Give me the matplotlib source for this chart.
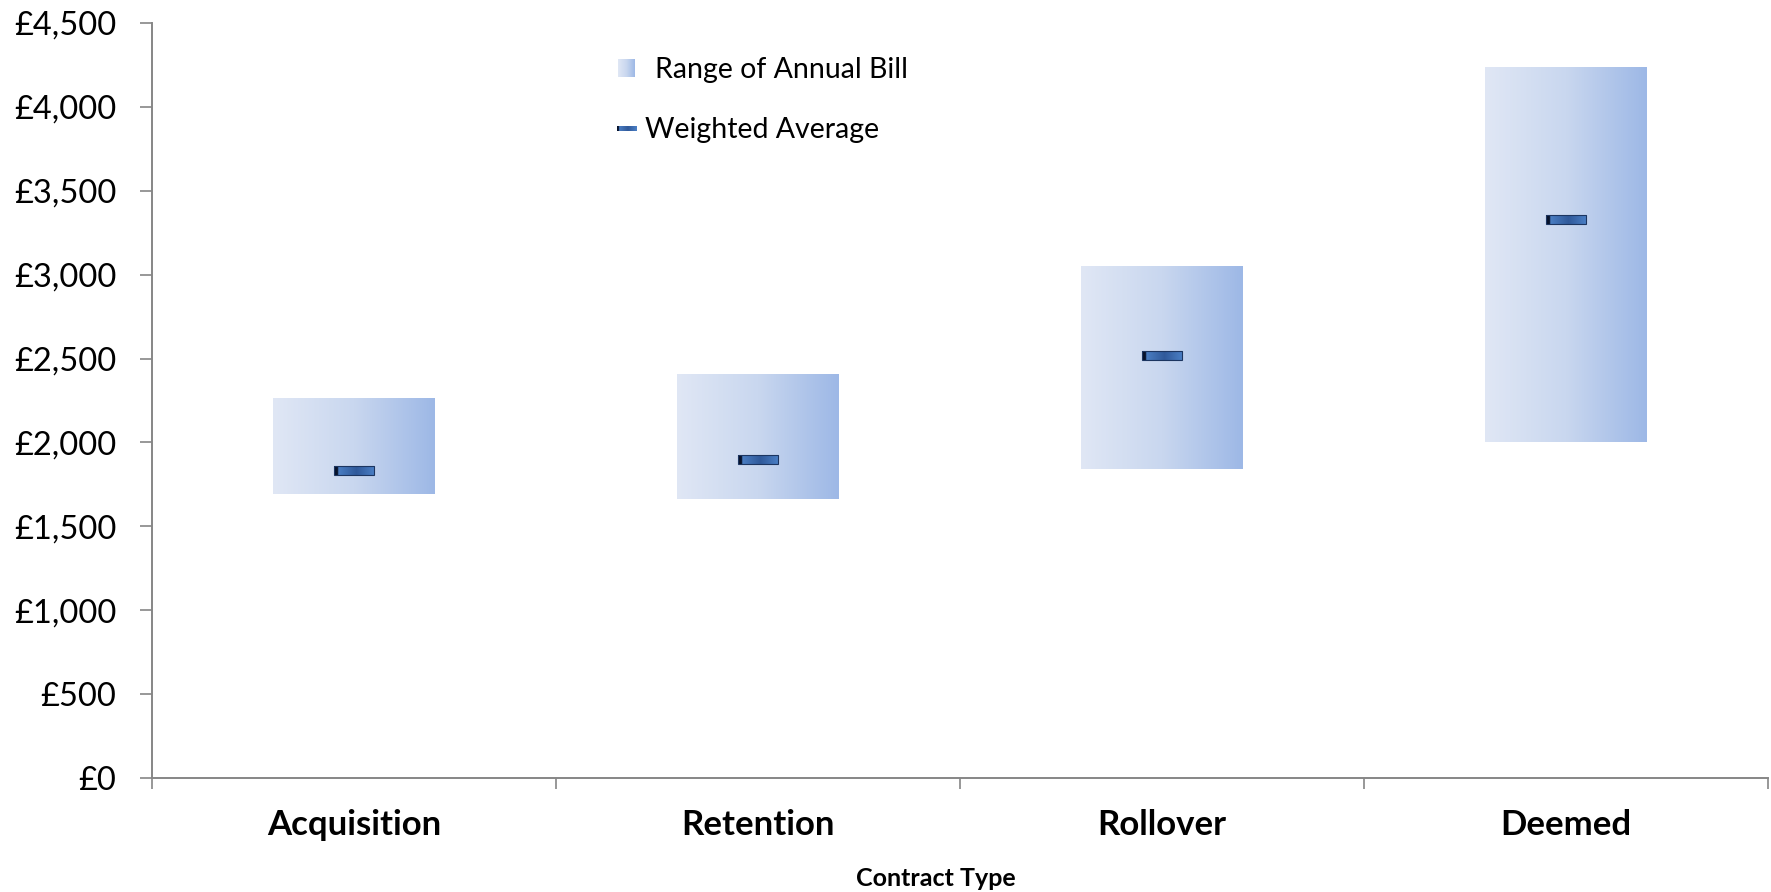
import numpy as np
import matplotlib.pyplot as plt
from matplotlib.colors import LinearSegmentedColormap
from matplotlib.ticker import FuncFormatter, FixedLocator

categories = ["Acquisition", "Retention", "Rollover", "Deemed"]
bill_low = [1690, 1660, 1840, 2000]
bill_high = [2265, 2410, 3050, 4240]
weighted_avg = [1830, 1900, 2520, 3330]
y_ticks = list(range(0, 4501, 500))

plt.rcParams['font.family'] = ['Lato', 'DejaVu Sans']
axis_grey = "#868686"

W, H = 1771, 892
fig = plt.figure(figsize=(W / 100, H / 100), dpi=100)
ax = fig.add_axes([152 / W, 114 / H, 1616 / W, 755 / H])

range_cmap = LinearSegmentedColormap.from_list("range", ["#e0e7f5", "#c9d7ef", "#9db8e6"])
avg_cmap = LinearSegmentedColormap.from_list(
    "avg", [(0, "#07122b"), (0.09, "#07122b"), (0.11, "#4a7dc2"),
            (0.55, "#30599a"), (1, "#4b80c6")])
grad = np.linspace(0, 1, 256).reshape(1, -1)

x = np.arange(len(categories))

# range boxes with horizontal gradient
bars = ax.bar(x, np.subtract(bill_high, bill_low), bottom=bill_low,
              width=0.4, color="none", zorder=1)
for b in bars:
    bx, by = b.get_x(), b.get_y()
    im = ax.imshow(grad, cmap=range_cmap, aspect="auto", interpolation="bilinear",
                   extent=(bx, bx + b.get_width(), by, by + b.get_height()), zorder=1)
    im.set_clip_path(b)

# weighted average markers (about 9 px tall)
mh = 9 * 4500 / 755
marks = ax.bar(x, mh, bottom=np.array(weighted_avg) - mh / 2, width=0.1,
               color="none", edgecolor="#1c3560", linewidth=0.8, zorder=3)
for b in marks:
    bx, by = b.get_x(), b.get_y()
    im = ax.imshow(grad, cmap=avg_cmap, aspect="auto", interpolation="bilinear",
                   extent=(bx, bx + b.get_width(), by, by + b.get_height()), zorder=2)
    im.set_clip_path(b)

ax.set_xlim(-0.5, len(categories) - 0.5)
ax.set_ylim(0, 4500)
ax.set_yticks(y_ticks)
ax.yaxis.set_major_formatter(FuncFormatter(lambda v, p: "£{:,.0f}".format(v)))

ax.xaxis.set_major_locator(FixedLocator(np.arange(len(categories) + 1) - 0.5))
ax.xaxis.set_major_formatter(FuncFormatter(lambda v, p: ""))
ax.set_xticks(x, minor=True)
ax.set_xticklabels(categories, minor=True, fontsize=25, fontweight="bold")
ax.tick_params(axis="x", which="minor", length=0, pad=22)
ax.tick_params(axis="x", which="major", length=8, color=axis_grey, width=1.2)
ax.tick_params(axis="y", length=8.5, color=axis_grey, width=1.2, labelsize=23.5, pad=17)

for s in ["top", "right"]:
    ax.spines[s].set_visible(False)
for s in ["left", "bottom"]:
    ax.spines[s].set_color(axis_grey)
    ax.spines[s].set_linewidth(1.4)

fig.text(936 / W, 1 - 879 / H, "Contract Type", ha="center", va="center",
         fontsize=18, fontweight="bold")

# legend
lg1 = fig.add_axes([618 / W, 1 - 77 / H, 17 / W, 18 / H])
lg1.imshow(grad, cmap=range_cmap, aspect="auto")
lg1.axis("off")
fig.text(655 / W, 1 - 70 / H, "Range of Annual Bill", ha="left", va="center", fontsize=20.5)
lg2 = fig.add_axes([617 / W, 1 - 131 / H, 19 / W, 5 / H])
lg2.imshow(grad, cmap=avg_cmap, aspect="auto")
lg2.axis("off")
fig.text(645 / W, 1 - 130 / H, "Weighted Average", ha="left", va="center", fontsize=20.5)

fig.savefig("out.png", dpi=100)
